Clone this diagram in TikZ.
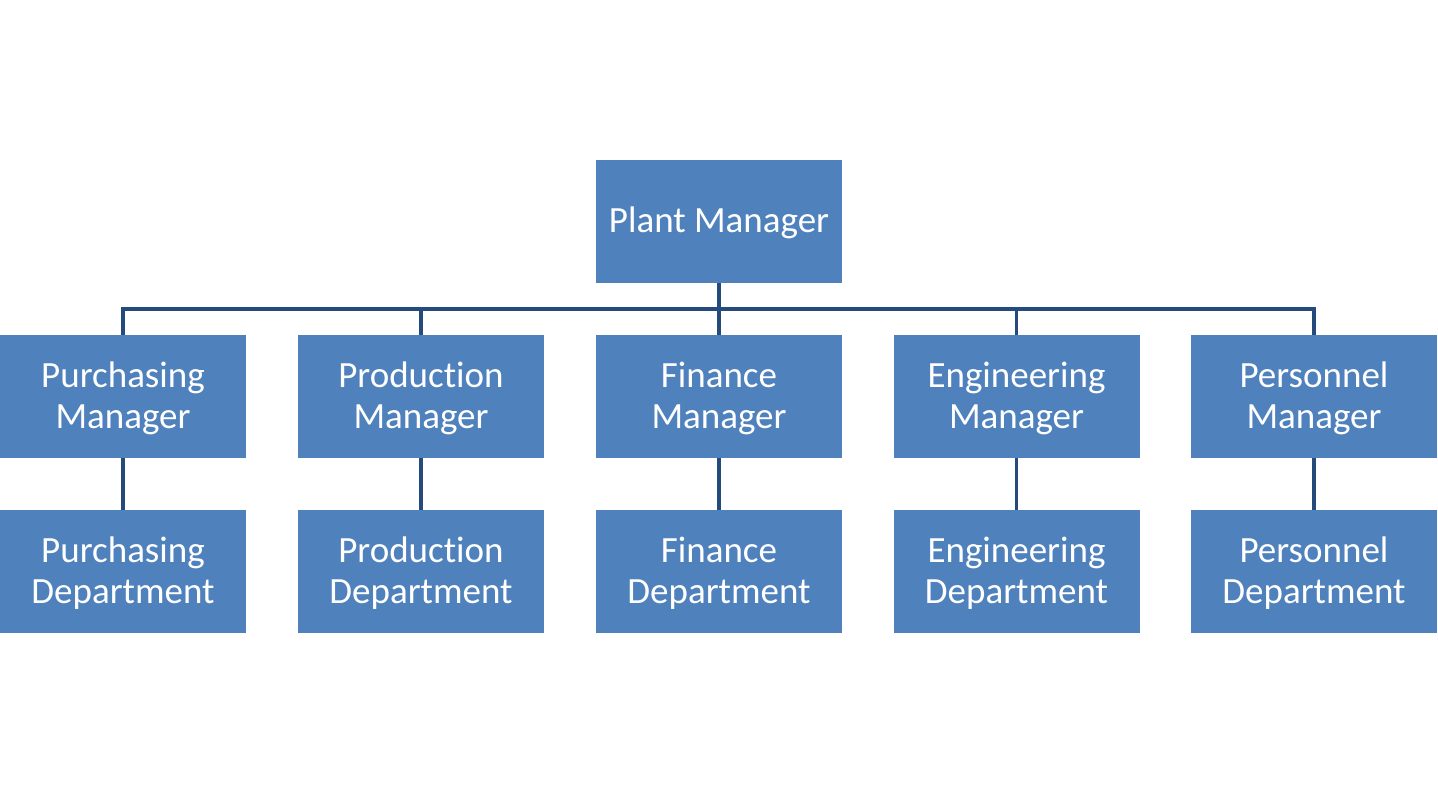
\documentclass[tikz,border=0pt]{standalone}
\usepackage{fontspec}
\setmainfont[Ligatures={NoCommon}]{Carlito}
\definecolor{boxblue}{HTML}{4F81BD}
\definecolor{linkblue}{HTML}{254A7C}
\begin{document}
\begin{tikzpicture}[x=1pt,y=-1pt,
  orgbox/.style={rectangle, fill=boxblue, draw=none, minimum width=246pt, minimum height=122.5pt, inner sep=0pt},
  orgtext/.style={font=\fontsize{37}{41.5}\selectfont, text=white, align=center, inner sep=0pt},
  link/.style={draw=linkblue, line width=3.2pt, line join=miter}]
\useasboundingbox (0,0) rectangle (1438,794);
\foreach \n/\x/\y in {pm/719/221.3, m1/123/396.3, m2/421/396.3, m3/719/396.3, m4/1016.5/396.3, m5/1314/396.3,
  d1/123/571.3, d2/421/571.3, d3/719/571.3, d4/1016.5/571.3, d5/1314/571.3}
  {\node[orgbox] (\n) at (\x,\y) {};}
\node[orgtext] (tpm) at ([yshift=-2pt]pm.center) {Plant Manager};
\node[orgtext] (t1) at ([yshift=-2pt]m1.center) {Purchasing\\Manager};
\node[orgtext] (t2) at ([yshift=-2pt]m2.center) {Production\\Manager};
\node[orgtext] (t3) at ([yshift=-2pt]m3.center) {Finance\\Manager};
\node[orgtext] (t4) at ([yshift=-2pt]m4.center) {Engineering\\Manager};
\node[orgtext] (t5) at ([yshift=-2pt]m5.center) {Personnel\\Manager};
\node[orgtext] (u1) at ([yshift=-2pt]d1.center) {Purchasing\\Department};
\node[orgtext] (u2) at ([yshift=-2pt]d2.center) {Production\\Department};
\node[orgtext] (u3) at ([yshift=-2pt]d3.center) {Finance\\Department};
\node[orgtext] (u4) at ([yshift=-2pt]d4.center) {Engineering\\Department};
\node[orgtext] (u5) at ([yshift=-2pt]d5.center) {Personnel\\Department};
\coordinate (bus) at (719,309);
\draw[link] (pm.south) -- (bus);
\draw[link] (m1.north) |- (bus) -| (m5.north);
\draw[link] (m2.north) -- (m2.north |- bus);
\draw[link] (m3.north) -- (bus);
\draw[link] (m4.north) -- (m4.north |- bus);
\foreach \i in {1,...,5} {\draw[link] (m\i.south) -- (d\i.north);}
\end{tikzpicture}
\end{document}
